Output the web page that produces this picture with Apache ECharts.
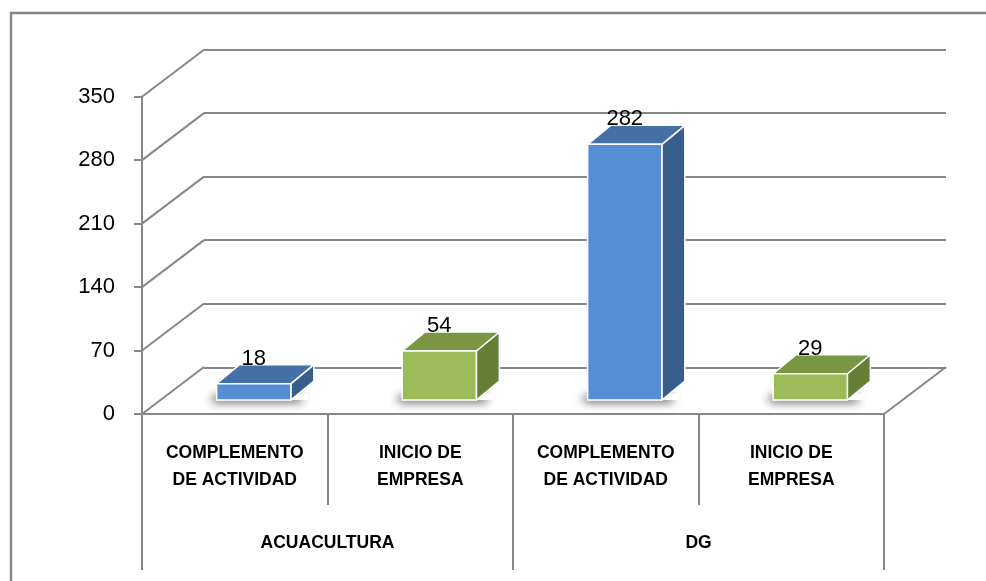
<!DOCTYPE html>
<html>
<head>
<meta charset="utf-8">
<script src="https://cdn.jsdelivr.net/npm/echarts@6/dist/echarts.min.js"></script>
<style>
  html, body { margin: 0; padding: 0; background: #fff; }
  #chart { width: 986px; height: 581px; }
</style>
</head>
<body>
<div id="chart"></div>
<script>
var subCategories = ['COMPLEMENTO\nDE ACTIVIDAD', 'INICIO DE\nEMPRESA', 'COMPLEMENTO\nDE ACTIVIDAD', 'INICIO DE\nEMPRESA'];
var groups = ['ACUACULTURA', 'DG'];
var values = [18, 54, 282, 29];
var barKind = [0, 1, 0, 1]; // 0 = complemento (blue), 1 = inicio (green)
var yTicks = [0, 70, 140, 210, 280, 350];

// fake 3d offsets, in pixels
var DEPTH_X = 62, DEPTH_Y = -47;
var BAR_X = 19, BAR_Y = -14;
var BAR_DX = 23, BAR_DY = -19;

var palette = [
  { front: '#558ED5', top: '#4470A6', side: '#375D8B' },
  { front: '#9BBB59', top: '#7A9643', side: '#667F37' }
];
var gray = '#878787';
var font = '"Liberation Sans", Arial, sans-serif';

var chart = echarts.init(document.getElementById('chart'));

function renderFrame(params, api) {
  var cs = params.coordSys;
  var v = api.value(0);
  var y = api.coord([0, v])[1];
  var style = { stroke: gray, lineWidth: 2 };
  var kids = [{
    type: 'line',
    shape: { x1: cs.x, y1: y, x2: cs.x + DEPTH_X, y2: y + DEPTH_Y },
    style: style
  }];
  if (v === 0) {
    kids.push({
      type: 'line',
      shape: { x1: cs.x + cs.width, y1: y, x2: cs.x + cs.width + DEPTH_X, y2: y + DEPTH_Y },
      style: style
    });
  }
  return { type: 'group', children: kids };
}

function renderBar(params, api) {
  var i = api.value(0), v = api.value(1), k = api.value(2);
  var base = api.coord([i, 0]), top = api.coord([i, v]);
  var w = api.size([1, 0])[0] * 0.4;
  var x0 = base[0] - w / 2 + BAR_X, x1 = x0 + w;
  var yb = base[1] + BAR_Y, yt = top[1] + BAR_Y;
  var c = palette[k];
  var edge = { stroke: '#fff', lineWidth: 1.5, lineJoin: 'round' };
  return {
    type: 'group',
    children: [
      {
        // soft floor shadow, the white rect itself hides under the bar
        type: 'rect',
        shape: { x: x0 + 2, y: yb - 6, width: w + BAR_DX - 8, height: 6 },
        style: {
          fill: '#fff', shadowBlur: 10, shadowOffsetX: -6, shadowOffsetY: 2,
          shadowColor: 'rgba(0,0,0,0.75)'
        }
      },
      {
        type: 'polygon',
        shape: { points: [[x1, yt], [x1 + BAR_DX, yt + BAR_DY], [x1 + BAR_DX, yb + BAR_DY], [x1, yb]] },
        style: Object.assign({ fill: c.side }, edge)
      },
      {
        type: 'polygon',
        shape: { points: [[x0, yt], [x1, yt], [x1 + BAR_DX, yt + BAR_DY], [x0 + BAR_DX, yt + BAR_DY]] },
        style: Object.assign({ fill: c.top }, edge)
      },
      {
        type: 'rect',
        shape: { x: x0, y: yt, width: w, height: yb - yt },
        style: Object.assign({ fill: c.front }, edge)
      },
      {
        type: 'text',
        style: {
          x: (x0 + x1) / 2, y: yt + BAR_DY + 5,
          text: String(v), align: 'center', verticalAlign: 'bottom',
          fill: '#000', font: '22px ' + font
        }
      }
    ]
  };
}

chart.setOption({
  animation: false,
  graphic: [{
    type: 'rect', z: -10,
    shape: { x: 11, y: 13, width: 1000, height: 600 },
    style: { fill: 'none', stroke: '#888', lineWidth: 2.5 }
  }],
  grid: [
    { left: 142, width: 742, top: 96.7, height: 317.3, outerBoundsMode: 'none' },
    { left: 204, width: 742, top: 49.3, height: 318, outerBoundsMode: 'none' }
  ],
  xAxis: [
    {
      gridIndex: 0, type: 'category', position: 'bottom', data: subCategories,
      boundaryGap: true,
      axisLine: { show: true, lineStyle: { color: gray, width: 2 } },
      axisTick: { show: true, alignWithLabel: false, length: 91, interval: 0, lineStyle: { color: gray, width: 2 } },
      axisLabel: {
        interval: 0, margin: 26, color: '#000', fontFamily: font,
        fontSize: 17.5, fontWeight: 'bold', lineHeight: 27
      }
    },
    {
      gridIndex: 0, type: 'category', position: 'bottom', offset: 0, data: groups,
      boundaryGap: true,
      axisLine: { show: false },
      axisTick: { show: true, alignWithLabel: false, length: 156, interval: 0, lineStyle: { color: gray, width: 2 } },
      axisLabel: {
        interval: 0, margin: 120, color: '#000', fontFamily: font,
        fontSize: 17.5, fontWeight: 'bold'
      }
    },
    { gridIndex: 1, type: 'category', data: subCategories, show: false }
  ],
  yAxis: [
    {
      gridIndex: 0, type: 'value', min: 0, max: 350, interval: 70,
      axisLine: { show: true, lineStyle: { color: gray, width: 2 } },
      axisTick: { show: true, length: 8, lineStyle: { color: gray, width: 2 } },
      splitLine: { show: false },
      axisLabel: { margin: 27, color: '#000', fontFamily: font, fontSize: 22 }
    },
    {
      gridIndex: 1, type: 'value', min: 0, max: 350, interval: 70,
      axisLine: { show: false }, axisTick: { show: false }, axisLabel: { show: false },
      splitLine: { lineStyle: { color: gray, width: 2 } }
    }
  ],
  series: [
    {
      type: 'custom', xAxisIndex: 0, yAxisIndex: 0, z: 1,
      data: yTicks.map(function (t) { return [t]; }),
      renderItem: renderFrame, silent: true
    },
    {
      type: 'custom', xAxisIndex: 0, yAxisIndex: 0, z: 5,
      data: values.map(function (v, i) { return [i, v, barKind[i]]; }),
      renderItem: renderBar
    }
  ]
});
</script>
</body>
</html>
